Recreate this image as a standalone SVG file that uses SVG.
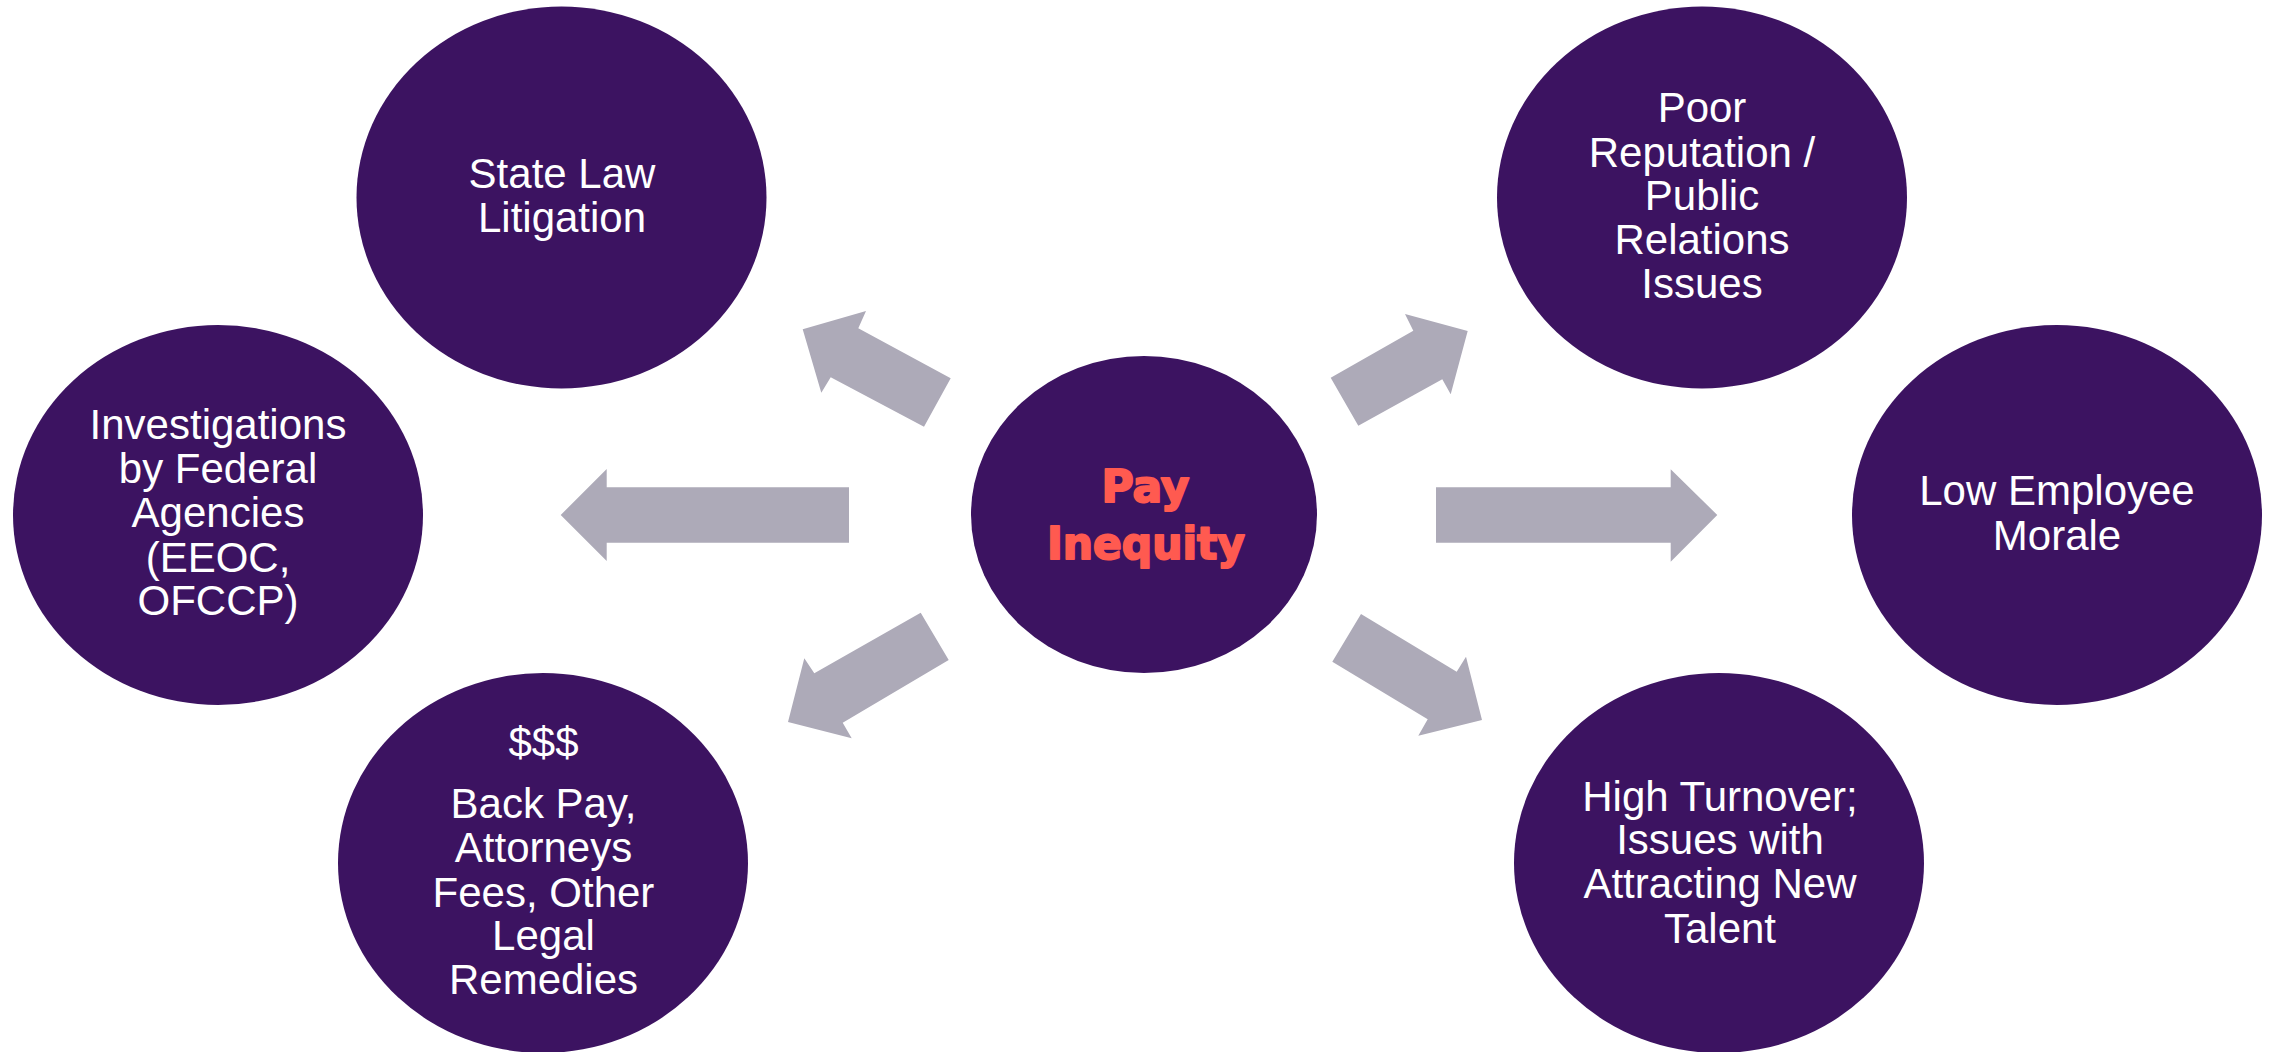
<svg xmlns="http://www.w3.org/2000/svg" width="2269" height="1052" viewBox="0 0 2269 1052">
  <style>
    .bubble { fill: #3C1361; }
    .label { font-family: "Liberation Sans", Arial, sans-serif; font-size: 42px; fill: #FFFFFF; text-anchor: middle; }
    .core { font-family: "DejaVu Sans", "Liberation Sans", sans-serif; font-weight: bold; font-size: 44px; fill: #FF5A50; stroke: #FF5A50; stroke-width: 2; stroke-linejoin: round; text-anchor: middle; }
    .arrow { fill: #ADAAB8; }
  </style>

  <rect x="0" y="0" width="2269" height="1052" fill="#FFFFFF"/>

  <!-- block arrows radiating from the centre -->
  <g id="connectors">
    <polygon class="arrow" points="950.7,378.3 858.3,328.3 866,311 802.7,329.3 821.3,392.7 830.7,377.3 924,426.7"/>
    <polygon class="arrow" points="849,487.3 606.7,487.3 606.7,469 560.7,515 606.7,561 606.7,542.7 849,542.7"/>
    <polygon class="arrow" points="920.7,612.7 948.7,660 842.7,722.7 851.7,738.3 788,722 804.3,658.3 814.3,673.3"/>
    <polygon class="arrow" points="1330.7,377.7 1358.3,425.7 1442.3,379.3 1450.7,394.3 1467.7,331 1405,314 1413.3,330.7"/>
    <polygon class="arrow" points="1436,487.3 1670.7,487.3 1670.7,469.3 1717.3,515 1670.7,561.7 1670.7,542.7 1436,542.7"/>
    <polygon class="arrow" points="1361,614 1332.3,661.7 1427.7,719.3 1418.3,735.7 1482,720 1466,656.7 1456.7,671.7"/>
  </g>

  <g id="pay-inequity">
    <ellipse class="bubble" cx="1144" cy="514.5" rx="173" ry="158.5"/>
    <text class="core" x="1145.5" y="502" textLength="88" lengthAdjust="spacingAndGlyphs">Pay</text>
    <text class="core" x="1146" y="559" textLength="198" lengthAdjust="spacingAndGlyphs">Inequity</text>
  </g>

  <g id="state-law-litigation">
    <ellipse class="bubble" cx="561.5" cy="197.5" rx="205" ry="191"/>
    <text class="label" x="562" y="188">State Law</text>
    <text class="label" x="562" y="232">Litigation</text>
  </g>

  <g id="federal-investigations">
    <ellipse class="bubble" cx="218" cy="515" rx="205" ry="190"/>
    <text class="label" x="218" y="439">Investigations</text>
    <text class="label" x="218" y="483">by Federal</text>
    <text class="label" x="218" y="527">Agencies</text>
    <text class="label" x="218" y="572">(EEOC,</text>
    <text class="label" x="218" y="615">OFCCP)</text>
  </g>

  <g id="legal-costs">
    <ellipse class="bubble" cx="543" cy="863" rx="205" ry="190"/>
    <text class="label" x="543.5" y="757">$$$</text>
    <text class="label" x="543.5" y="818">Back Pay,</text>
    <text class="label" x="543.5" y="862">Attorneys</text>
    <text class="label" x="543.5" y="907">Fees, Other</text>
    <text class="label" x="543.5" y="950">Legal</text>
    <text class="label" x="543.5" y="994">Remedies</text>
  </g>

  <g id="poor-reputation">
    <ellipse class="bubble" cx="1702" cy="197.5" rx="205" ry="191"/>
    <text class="label" x="1702" y="122">Poor</text>
    <text class="label" x="1702" y="167">Reputation /</text>
    <text class="label" x="1702" y="210">Public</text>
    <text class="label" x="1702" y="254">Relations</text>
    <text class="label" x="1702" y="298">Issues</text>
  </g>

  <g id="low-morale">
    <ellipse class="bubble" cx="2057" cy="515" rx="205" ry="190"/>
    <text class="label" x="2057" y="505">Low Employee</text>
    <text class="label" x="2057" y="550">Morale</text>
  </g>

  <g id="high-turnover">
    <ellipse class="bubble" cx="1719" cy="863" rx="205" ry="190"/>
    <text class="label" x="1720" y="811">High Turnover;</text>
    <text class="label" x="1720" y="854">Issues with</text>
    <text class="label" x="1720" y="898">Attracting New</text>
    <text class="label" x="1720" y="943">Talent</text>
  </g>
</svg>
